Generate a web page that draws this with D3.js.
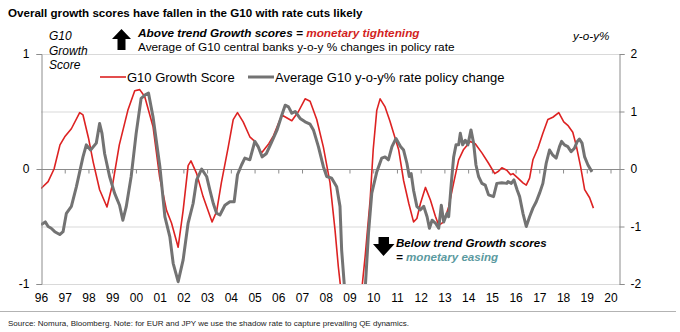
<!DOCTYPE html>
<html>
<head>
<meta charset="utf-8">
<script src="https://cdn.jsdelivr.net/npm/d3@7/dist/d3.min.js"></script>
<style>
  html, body { margin: 0; padding: 0; background: #fff; }
  svg { display: block; font-family: Arial, "Liberation Sans", sans-serif; }
</style>
</head>
<body>
<div id="chart"></div>
<script>
// G10 growth score (left axis), [decimal year, value]
const growthScore = [
  [1996.0, -0.17], [1996.3, -0.11], [1996.55, 0.0], [1996.8, 0.21], [1997.0, 0.28],
  [1997.28, 0.35], [1997.63, 0.49], [1997.77, 0.47], [1998.0, 0.27], [1998.2, 0.06],
  [1998.47, -0.18], [1998.78, -0.33], [1999.03, -0.12], [1999.3, 0.21], [1999.66, 0.51],
  [1999.95, 0.68], [2000.16, 0.69], [2000.37, 0.63], [2000.72, 0.37], [2001.0, -0.07],
  [2001.29, -0.36], [2001.5, -0.47], [2001.78, -0.68], [2001.99, -0.36], [2002.2, 0.03],
  [2002.32, 0.07], [2002.56, -0.04], [2002.83, -0.24], [2003.21, -0.46], [2003.4, -0.37],
  [2003.6, -0.12], [2003.89, 0.19], [2004.1, 0.43], [2004.28, 0.49], [2004.52, 0.41],
  [2004.8, 0.28], [2005.01, 0.24], [2005.29, 0.14], [2005.6, 0.22], [2005.8, 0.29],
  [2006.15, 0.47], [2006.57, 0.42], [2006.85, 0.5], [2007.13, 0.61], [2007.34, 0.59],
  [2007.62, 0.43], [2007.9, 0.19], [2008.18, -0.12], [2008.39, -0.53], [2008.53, -0.85],
  [2009.1, -1.9], [2009.66, -0.76], [2009.87, -0.27], [2010.0, 0.17], [2010.15, 0.51],
  [2010.29, 0.61], [2010.5, 0.54], [2010.7, 0.42], [2010.86, 0.31], [2011.07, 0.17],
  [2011.28, -0.1], [2011.5, -0.3], [2011.7, -0.46], [2011.84, -0.43], [2011.99, -0.3],
  [2012.2, -0.16], [2012.41, -0.27], [2012.62, -0.41], [2012.76, -0.49], [2012.97, -0.46],
  [2013.18, -0.33], [2013.39, -0.12], [2013.6, 0.08], [2013.81, 0.17], [2014.09, 0.24],
  [2014.3, 0.22], [2014.58, 0.14], [2014.86, 0.05], [2015.12, -0.04], [2015.28, -0.02],
  [2015.42, 0.01], [2015.63, -0.01], [2015.79, -0.05], [2015.89, -0.04], [2016.1, -0.08],
  [2016.31, -0.12], [2016.45, -0.14], [2016.59, -0.08], [2016.73, 0.08], [2016.94, 0.18],
  [2017.15, 0.31], [2017.36, 0.43], [2017.57, 0.45], [2017.82, 0.49], [2018.03, 0.41],
  [2018.2, 0.38], [2018.41, 0.32], [2018.55, 0.21], [2018.74, 0.02], [2018.91, -0.18],
  [2019.12, -0.25], [2019.28, -0.34]
];

// average G10 y-o-y% policy rate change (right axis), [decimal year, value]
const policyChange = [
  [1996.0, -0.97], [1996.18, -0.92], [1996.3, -1.0], [1996.43, -1.03], [1996.58, -1.09],
  [1996.79, -1.14], [1996.93, -1.09], [1997.07, -0.77], [1997.28, -0.65], [1997.49, -0.31],
  [1997.63, -0.05], [1997.77, 0.21], [1997.91, 0.42], [1998.09, 0.33], [1998.33, 0.45],
  [1998.47, 0.79], [1998.57, 0.62], [1998.68, 0.27], [1998.89, -0.13], [1999.1, -0.42],
  [1999.31, -0.63], [1999.45, -0.89], [1999.59, -0.66], [1999.8, -0.13], [2000.01, 0.62],
  [2000.22, 1.23], [2000.39, 1.29], [2000.53, 1.32], [2000.72, 0.91], [2001.01, 0.04],
  [2001.22, -0.83], [2001.43, -1.18], [2001.57, -1.64], [2001.78, -1.96], [2001.99, -1.58],
  [2002.2, -0.94], [2002.41, -0.6], [2002.56, -0.19], [2002.77, 0.0], [2002.98, -0.13],
  [2003.12, -0.37], [2003.26, -0.6], [2003.4, -0.77], [2003.54, -0.8], [2003.75, -0.63],
  [2003.96, -0.57], [2004.14, -0.57], [2004.28, -0.1], [2004.45, 0.07], [2004.59, 0.19],
  [2004.8, 0.16], [2005.01, 0.48], [2005.15, 0.39], [2005.32, 0.21], [2005.5, 0.27],
  [2005.71, 0.46], [2005.94, 0.67], [2006.15, 0.94], [2006.29, 1.11], [2006.43, 1.08],
  [2006.57, 0.97], [2006.71, 1.0], [2006.92, 0.88], [2007.13, 0.82], [2007.34, 0.78],
  [2007.48, 0.68], [2007.69, 0.39], [2007.9, 0.04], [2008.04, -0.13], [2008.25, -0.16],
  [2008.46, -0.31], [2008.6, -0.65], [2008.67, -1.41], [2009.2, -4.3], [2009.66, -2.1],
  [2009.8, -1.12], [2009.94, -0.42], [2010.15, -0.05], [2010.36, 0.19], [2010.5, 0.21],
  [2010.64, 0.16], [2010.79, 0.39], [2010.96, 0.53], [2011.15, 0.39], [2011.28, 0.33],
  [2011.42, 0.1], [2011.52, -0.13], [2011.6, -0.08], [2011.7, -0.37], [2011.84, -0.65],
  [2011.99, -0.71], [2012.13, -0.65], [2012.27, -0.83], [2012.37, -1.03], [2012.48, -0.89],
  [2012.62, -0.94], [2012.76, -1.03], [2012.87, -0.63], [2012.97, -0.92], [2013.11, -0.77],
  [2013.18, -0.83], [2013.29, -0.25], [2013.39, 0.21], [2013.49, 0.42], [2013.6, 0.42],
  [2013.67, 0.62], [2013.77, 0.42], [2013.88, 0.5], [2013.99, 0.42], [2014.12, 0.68],
  [2014.23, 0.45], [2014.33, 0.07], [2014.44, -0.13], [2014.58, -0.25], [2014.72, -0.28],
  [2014.86, -0.45], [2015.07, -0.48], [2015.21, -0.25], [2015.42, -0.24], [2015.63, -0.25],
  [2015.68, -0.22], [2015.82, -0.25], [2015.93, -0.19], [2016.07, -0.37], [2016.17, -0.48],
  [2016.31, -0.77], [2016.45, -1.0], [2016.59, -0.83], [2016.73, -0.68], [2016.87, -0.57],
  [2017.01, -0.42], [2017.15, -0.25], [2017.29, 0.1], [2017.43, 0.33], [2017.57, 0.24],
  [2017.71, 0.19], [2017.85, 0.39], [2017.94, 0.48], [2018.06, 0.42], [2018.2, 0.39],
  [2018.34, 0.3], [2018.48, 0.36], [2018.6, 0.48], [2018.69, 0.52], [2018.8, 0.45],
  [2018.91, 0.21], [2019.05, 0.07], [2019.22, -0.05]
];

const years = d3.range(1996, 2021);
const leftTicks = [-1, 0, 1];
const rightTicks = [-2, -1, 0, 1, 2];

const width = 680, height = 332;
const plot = { left: 41, right: 620, top: 54, bottom: 284 };

const svg = d3.select("#chart").append("svg")
  .attr("width", width)
  .attr("height", height);

const x = d3.scaleLinear().domain([1996, 2020.4]).range([plot.left, plot.right]);
const yL = d3.scaleLinear().domain([-1, 1]).range([plot.bottom, plot.top]);
const yR = d3.scaleLinear().domain([-2, 2]).range([plot.bottom, plot.top]);

// title
svg.append("text")
  .attr("x", 8).attr("y", 17)
  .attr("font-size", 11.6).attr("font-weight", "bold")
  .text("Overall growth scores have fallen in the G10 with rate cuts likely");

// gridlines (right axis units)
svg.append("g")
  .selectAll("line")
  .data(rightTicks.filter(d => d !== 0))
  .join("line")
  .attr("x1", plot.left).attr("x2", plot.right)
  .attr("y1", d => yR(d) + 0.5).attr("y2", d => yR(d) + 0.5)
  .attr("stroke", "#d9d9d9");

// zero line with year ticks
svg.append("g")
  .attr("transform", `translate(0,${yL(0) + 0.5})`)
  .call(d3.axisBottom(x).tickValues(years.slice(1)).tickSize(4).tickFormat(""))
  .call(g => g.select(".domain").attr("stroke", "#8c8c8c").attr("d", `M${plot.left},0H${plot.right}`))
  .call(g => g.selectAll(".tick line").attr("stroke", "#8c8c8c"));

// lines
svg.append("clipPath").attr("id", "clip")
  .append("rect")
  .attr("x", plot.left).attr("y", plot.top)
  .attr("width", plot.right - plot.left).attr("height", plot.bottom - plot.top);

const lineL = d3.line().x(d => x(d[0])).y(d => yL(d[1]));
const lineR = d3.line().x(d => x(d[0])).y(d => yR(d[1]));

const lines = svg.append("g").attr("clip-path", "url(#clip)");
lines.append("path")
  .datum(growthScore)
  .attr("d", lineL)
  .attr("fill", "none")
  .attr("stroke", "#dd2222")
  .attr("stroke-width", 1.6)
  .attr("stroke-linejoin", "round");
lines.append("path")
  .datum(policyChange)
  .attr("d", lineR)
  .attr("fill", "none")
  .attr("stroke", "#737373")
  .attr("stroke-width", 3)
  .attr("stroke-linejoin", "round");

// left axis
svg.append("g")
  .attr("transform", `translate(${plot.left + 0.5},0)`)
  .call(d3.axisLeft(yL).tickValues(leftTicks).tickSize(5).tickPadding(7).tickFormat(d => String(d)))
  .call(g => g.select(".domain").attr("stroke", "#8c8c8c"))
  .call(g => g.selectAll(".tick line").attr("stroke", "#8c8c8c"))
  .call(g => g.selectAll(".tick text").attr("font-size", 12).attr("fill", "#000").attr("font-family", "Arial, 'Liberation Sans', sans-serif"));

// right axis
svg.append("g")
  .attr("transform", `translate(${plot.right - 0.5},0)`)
  .call(d3.axisRight(yR).tickValues(rightTicks).tickSize(5).tickPadding(6).tickFormat(d => String(d)))
  .call(g => g.select(".domain").attr("stroke", "#8c8c8c"))
  .call(g => g.selectAll(".tick line").attr("stroke", "#8c8c8c"))
  .call(g => g.selectAll(".tick text").attr("font-size", 12).attr("fill", "#000").attr("font-family", "Arial, 'Liberation Sans', sans-serif"));

// year labels
svg.append("g")
  .attr("transform", `translate(0,${plot.bottom})`)
  .call(d3.axisBottom(x).tickValues(years).tickSize(0).tickPadding(9)
    .tickFormat(d => String(d % 100).padStart(2, "0")))
  .call(g => g.select(".domain").remove())
  .call(g => g.selectAll(".tick text").attr("font-size", 12).attr("fill", "#000").attr("font-family", "Arial, 'Liberation Sans', sans-serif"));

// axis titles
const leftTitle = svg.append("text")
  .attr("font-size", 12).attr("font-style", "italic");
["G10", "Growth", "Score"].forEach((t, i) => {
  leftTitle.append("tspan").attr("x", 49).attr("y", 40 + i * 14.5).text(t);
});
svg.append("text")
  .attr("x", 573).attr("y", 40)
  .attr("font-size", 11.7).attr("font-style", "italic")
  .text("y-o-y%");

// legend
const legend = svg.append("g").attr("transform", "translate(100,77)");
[
  { label: "G10 Growth Score", color: "#dd2222", w: 1.6, dx: 0 },
  { label: "Average G10 y-o-y% rate policy change", color: "#737373", w: 3, dx: 148 }
].forEach(d => {
  const g = legend.append("g").attr("transform", `translate(${d.dx},0)`);
  g.append("line").attr("x1", 0).attr("x2", 26)
    .attr("stroke", d.color).attr("stroke-width", d.w);
  g.append("text").attr("x", 27).attr("y", 4.5)
    .attr("font-size", 13).text(d.label);
});

// arrows
const arrow = d3.line();
svg.append("path")
  .attr("d", arrow([[121.5, 29], [131, 39], [125.5, 39], [125.5, 50], [117.5, 50], [117.5, 39], [112, 39]]) + "Z")
  .attr("fill", "#000");
svg.append("path")
  .attr("d", arrow([[378.5, 237], [389, 237], [389, 244], [394.5, 244], [383.5, 256], [373, 244], [378.5, 244]]) + "Z")
  .attr("fill", "#000");

// annotations
const aboveNote = svg.append("text")
  .attr("x", 138).attr("y", 37)
  .attr("font-size", 11.8).attr("font-weight", "bold").attr("font-style", "italic");
aboveNote.append("tspan").text("Above trend Growth scores = ");
aboveNote.append("tspan").attr("fill", "#d21f1f").text("monetary tightening");
svg.append("text")
  .attr("x", 138).attr("y", 51)
  .attr("font-size", 11.8)
  .text("Average of G10 central banks y-o-y % changes in policy rate");

svg.append("text")
  .attr("x", 396).attr("y", 247)
  .attr("font-size", 11.6).attr("font-weight", "bold").attr("font-style", "italic")
  .text("Below trend Growth scores");
const belowNote = svg.append("text")
  .attr("x", 396).attr("y", 261)
  .attr("font-size", 11.6).attr("font-weight", "bold").attr("font-style", "italic");
belowNote.append("tspan").text("= ");
belowNote.append("tspan").attr("fill", "#5b9aa0").text("monetary easing");

// footer
svg.append("line")
  .attr("x1", 0).attr("x2", 676)
  .attr("y1", 311.5).attr("y2", 311.5)
  .attr("stroke", "#b3b3b3");
svg.append("text")
  .attr("x", 8).attr("y", 326)
  .attr("font-size", 8)
  .attr("fill", "#222")
  .text("Source: Nomura, Bloomberg. Note: for EUR and JPY we use the shadow rate to capture prevailing QE dynamics.");
</script>
</body>
</html>
